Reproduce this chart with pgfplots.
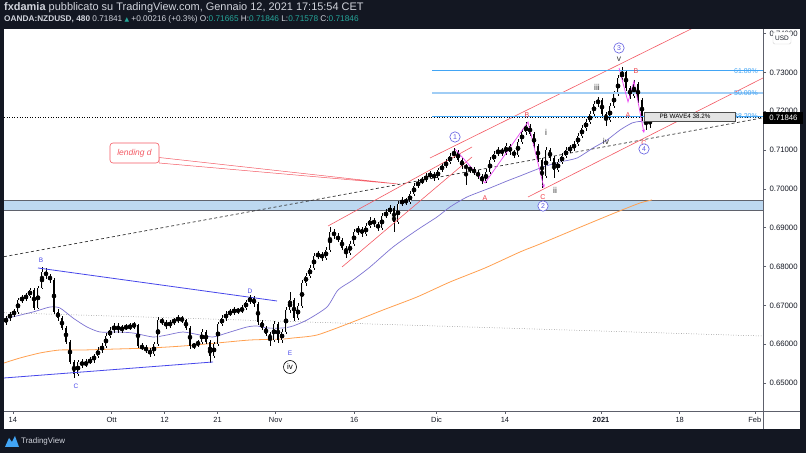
\documentclass[border=0pt]{standalone}
\usepackage{fontspec}
\setmainfont{Liberation Sans}
\newfontfamily\dejavu{DejaVu Sans}
\usepackage{pgfplots}
\pgfplotsset{compat=1.18}
\usepackage{pgfplotstable}
\usetikzlibrary{arrows.meta}

\definecolor{tvbg}{HTML}{131722}
\definecolor{tvtext}{HTML}{D1D4DC}
\definecolor{tvteal}{HTML}{26A69A}
\definecolor{axisgray}{HTML}{5D606B}
\definecolor{lbl}{HTML}{131722}
\definecolor{zonefill}{RGB}{189,216,240}
\definecolor{zoneedge}{RGB}{95,98,108}
\definecolor{fibblue}{RGB}{66,165,245}
\definecolor{fiblight}{RGB}{160,205,245}
\definecolor{chred}{RGB}{244,90,100}
\definecolor{tribl}{RGB}{70,70,235}
\definecolor{maslate}{RGB}{125,115,210}
\definecolor{maorange}{RGB}{255,160,80}
\definecolor{wavepink}{RGB}{235,70,245}
\definecolor{wavered}{RGB}{240,60,70}
\definecolor{wavepurple}{RGB}{95,90,225}
\definecolor{upfill}{RGB}{238,238,238}

% 480-minute candles, OANDA:NZDUSD (x = horizontal position on the chart)
\pgfplotstableread{
x o h l c
6 0.6657 0.6672 0.6650 0.6667
10 0.6667 0.6684 0.6660 0.6678
14 0.6678 0.6690 0.6671 0.6683
18 0.6683 0.6720 0.6679 0.6714
22 0.6714 0.6726 0.6706 0.6719
26 0.6719 0.6731 0.6712 0.6724
30 0.6724 0.6746 0.6718 0.6740
34 0.6740 0.6744 0.6688 0.6693
38 0.6693 0.6750 0.6690 0.6745
42 0.6745 0.6800 0.6741 0.6786
46 0.6786 0.6795 0.6768 0.6776
50 0.6776 0.6782 0.6758 0.6765
54 0.6765 0.6770 0.6678 0.6683
58 0.6683 0.6690 0.6660 0.6667
62 0.6667 0.6672 0.6636 0.6642
66 0.6642 0.6648 0.6600 0.6606
70 0.6606 0.6611 0.6548 0.6554
74 0.6554 0.6560 0.6513 0.6523
78 0.6523 0.6560 0.6517 0.6554
82 0.6554 0.6562 0.6538 0.6546
86 0.6546 0.6561 0.6540 0.6554
90 0.6554 0.6566 0.6548 0.6559
94 0.6559 0.6576 0.6552 0.6570
98 0.6570 0.6592 0.6565 0.6585
102 0.6585 0.6602 0.6578 0.6595
106 0.6595 0.6628 0.6590 0.6621
110 0.6621 0.6645 0.6615 0.6636
114 0.6636 0.6655 0.6630 0.6647
118 0.6647 0.6654 0.6630 0.6636
122 0.6636 0.6650 0.6628 0.6644
126 0.6644 0.6652 0.6636 0.6642
130 0.6642 0.6654 0.6637 0.6647
134 0.6647 0.6658 0.6640 0.6649
138 0.6649 0.6653 0.6590 0.6595
142 0.6595 0.6602 0.6584 0.6590
146 0.6590 0.6597 0.6578 0.6585
150 0.6585 0.6590 0.6568 0.6575
154 0.6575 0.6606 0.6570 0.6600
158 0.6600 0.6670 0.6596 0.6662
162 0.6662 0.6668 0.6650 0.6657
166 0.6657 0.6662 0.6640 0.6647
170 0.6647 0.6663 0.6641 0.6657
174 0.6657 0.6668 0.6650 0.6662
178 0.6662 0.6675 0.6655 0.6667
182 0.6667 0.6672 0.6654 0.6662
186 0.6662 0.6666 0.6636 0.6642
190 0.6642 0.6646 0.6588 0.6595
194 0.6595 0.6604 0.6588 0.6598
198 0.6598 0.6612 0.6592 0.6606
202 0.6606 0.6638 0.6600 0.6631
206 0.6631 0.6636 0.6600 0.6606
210 0.6606 0.6610 0.6552 0.6570
214 0.6570 0.6606 0.6565 0.6600
218 0.6600 0.6658 0.6596 0.6652
222 0.6652 0.6674 0.6646 0.6667
226 0.6667 0.6685 0.6660 0.6678
230 0.6678 0.6690 0.6672 0.6683
234 0.6683 0.6695 0.6676 0.6688
238 0.6688 0.6694 0.6678 0.6685
242 0.6685 0.6700 0.6680 0.6693
246 0.6693 0.6715 0.6688 0.6709
250 0.6709 0.6727 0.6704 0.6719
254 0.6719 0.6724 0.6697 0.6703
258 0.6703 0.6708 0.6650 0.6657
262 0.6657 0.6663 0.6636 0.6642
266 0.6642 0.6648 0.6620 0.6626
270 0.6626 0.6632 0.6595 0.6611
274 0.6611 0.6660 0.6605 0.6652
278 0.6652 0.6657 0.6604 0.6611
282 0.6611 0.6638 0.6604 0.6631
286 0.6631 0.6695 0.6626 0.6688
290 0.6688 0.6734 0.6680 0.6714
294 0.6714 0.6720 0.6660 0.6667
298 0.6667 0.6705 0.6662 0.6698
302 0.6698 0.6765 0.6692 0.6758
306 0.6758 0.6784 0.6750 0.6776
310 0.6776 0.6804 0.6770 0.6796
314 0.6796 0.6835 0.6790 0.6827
318 0.6827 0.6840 0.6820 0.6832
322 0.6832 0.6838 0.6815 0.6822
326 0.6822 0.6850 0.6816 0.6843
330 0.6843 0.6902 0.6838 0.6889
334 0.6889 0.6896 0.6872 0.6879
338 0.6879 0.6885 0.6862 0.6868
342 0.6868 0.6874 0.6842 0.6848
346 0.6848 0.6852 0.6822 0.6835
350 0.6835 0.6865 0.6830 0.6858
354 0.6858 0.6896 0.6852 0.6889
358 0.6889 0.6905 0.6882 0.6897
362 0.6897 0.6903 0.6877 0.6884
366 0.6884 0.6911 0.6878 0.6904
370 0.6904 0.6928 0.6898 0.6920
374 0.6920 0.6926 0.6902 0.6909
378 0.6909 0.6915 0.6892 0.6899
382 0.6899 0.6937 0.6894 0.6930
386 0.6930 0.6947 0.6924 0.6940
390 0.6940 0.6958 0.6934 0.6951
394 0.6951 0.6956 0.6889 0.6915
398 0.6915 0.6968 0.6910 0.6961
402 0.6961 0.6978 0.6955 0.6971
406 0.6971 0.6977 0.6959 0.6966
410 0.6966 0.6994 0.6960 0.6987
414 0.6987 0.7014 0.6982 0.7007
418 0.7007 0.7026 0.7001 0.7018
422 0.7018 0.7030 0.7012 0.7023
426 0.7023 0.7040 0.7017 0.7033
430 0.7033 0.7045 0.7027 0.7038
434 0.7038 0.7044 0.7021 0.7028
438 0.7028 0.7055 0.7022 0.7049
442 0.7049 0.7066 0.7043 0.7059
446 0.7059 0.7076 0.7053 0.7069
450 0.7069 0.7092 0.7063 0.7085
454 0.7085 0.7105 0.7080 0.7095
458 0.7095 0.7100 0.7068 0.7074
462 0.7074 0.7080 0.7052 0.7059
466 0.7059 0.7065 0.7010 0.7054
470 0.7054 0.7060 0.7042 0.7049
474 0.7049 0.7056 0.7036 0.7043
478 0.7043 0.7048 0.7026 0.7033
482 0.7033 0.7038 0.7012 0.7020
486 0.7020 0.7050 0.7015 0.7043
490 0.7043 0.7081 0.7038 0.7074
494 0.7074 0.7097 0.7068 0.7090
498 0.7090 0.7108 0.7084 0.7100
502 0.7100 0.7106 0.7085 0.7092
506 0.7092 0.7118 0.7087 0.7110
510 0.7110 0.7115 0.7088 0.7095
514 0.7095 0.7101 0.7080 0.7087
518 0.7087 0.7128 0.7082 0.7121
522 0.7121 0.7153 0.7115 0.7146
526 0.7146 0.7172 0.7140 0.7162
530 0.7162 0.7168 0.7135 0.7141
534 0.7141 0.7146 0.7104 0.7110
538 0.7110 0.7116 0.7068 0.7074
542 0.7074 0.7080 0.7002 0.7033
546 0.7033 0.7107 0.7028 0.7100
550 0.7100 0.7106 0.7072 0.7079
554 0.7079 0.7084 0.7028 0.7049
558 0.7049 0.7076 0.7043 0.7069
562 0.7069 0.7092 0.7063 0.7085
566 0.7085 0.7107 0.7079 0.7100
570 0.7100 0.7113 0.7093 0.7105
574 0.7105 0.7122 0.7098 0.7115
578 0.7115 0.7143 0.7110 0.7136
582 0.7136 0.7164 0.7130 0.7157
586 0.7157 0.7180 0.7150 0.7172
590 0.7172 0.7200 0.7166 0.7193
594 0.7193 0.7226 0.7187 0.7219
598 0.7219 0.7237 0.7212 0.7229
602 0.7229 0.7234 0.7186 0.7193
606 0.7193 0.7199 0.7162 0.7177
610 0.7177 0.7220 0.7172 0.7213
614 0.7213 0.7251 0.7207 0.7244
618 0.7244 0.7293 0.7238 0.7285
622 0.7285 0.7314 0.7280 0.7301
626 0.7301 0.7306 0.7253 0.7260
630 0.7260 0.7265 0.7232 0.7239
634 0.7239 0.7281 0.7234 0.7270
638 0.7270 0.7275 0.7222 0.7229
642 0.7229 0.7235 0.7176 0.7182
646 0.7182 0.7188 0.7151 0.7167
650 0.71665 0.71846 0.71578 0.71846
}\candles

\begin{document}
\begin{tikzpicture}[x=1bp,y=1bp]
% frame
\fill[tvbg] (0,0) rectangle (806,453);
\fill[white] (4,24) rectangle (800,424);

\begin{axis}[
  at={(4bp,42bp)}, anchor=south west,
  scale only axis, width=759bp, height=381bp,
  xmin=4, xmax=763, ymin=0.642789, ymax=0.740908,
  axis x line*=bottom, axis y line*=right,
  axis line style={draw=axisgray, line width=0.7pt},
  xtick={12.9,111.6,164.5,217.5,275.6,354.2,436.5,504.9,601,679.7,754.8},
  xticklabels={14,Ott,12,21,Nov,16,Dic,14,\textbf{2021},18,Feb},
  ytick={0.65,0.66,0.67,0.68,0.69,0.70,0.71,0.72,0.73,0.74},
  yticklabels={0.65000,0.66000,0.67000,0.68000,0.69000,0.70000,0.71000,0.72000,0.73000,0.74000},
  tick align=outside, major tick length=3bp,
  tick style={draw=axisgray, line width=0.5pt},
  x tick label style={font=\fontsize{7.5}{8}\selectfont, text=lbl},
  y tick label style={font=\fontsize{7.8}{8}\selectfont, text=lbl},
]
% support zone
\addplot[draw=none, fill=zonefill] coordinates {(4,0.69446) (763,0.69446) (763,0.69696) (4,0.69696)} -- cycle;
\addplot[zoneedge, line width=0.7pt] coordinates {(4,0.69696) (763,0.69696)};
\addplot[zoneedge, line width=0.7pt] coordinates {(4,0.69446) (763,0.69446)};

% moving averages
\addplot[maorange, line width=0.8pt, smooth, tension=0.4] coordinates {
(4,0.65515) (20,0.65644) (40,0.65773) (60,0.65850) (83,0.65850) (117,0.65876)
(150,0.65901) (183,0.65953) (217,0.66030) (250,0.66107) (283,0.66133) (293,0.66159)
(317,0.66236) (350,0.66545) (383,0.66880) (417,0.67215) (450,0.67601) (485,0.67962)
(520,0.68374) (540,0.68580) (583,0.69043) (617,0.69404) (640,0.69636) (652,0.69713)};
\addplot[maslate, line width=0.7pt, smooth, tension=0.4] coordinates {
(4,0.66648) (33,0.66829) (50,0.66957) (60,0.66931) (73,0.66674) (87,0.66442)
(100,0.66313) (117,0.66313) (133,0.66288) (153,0.66185) (167,0.66236) (183,0.66313)
(200,0.66236) (213,0.66185) (227,0.66288) (247,0.66442) (257,0.66468) (267,0.66416)
(283,0.66416) (293,0.66468) (307,0.66622) (327,0.66957) (338,0.67395) (353,0.67653)
(370,0.67987) (393,0.68502) (417,0.68940) (437,0.69275) (450,0.69533) (467,0.69790)
(490,0.70022) (507,0.70202) (520,0.70331) (543,0.70563) (560,0.70691) (577,0.70794)
(593,0.71052) (607,0.71258) (620,0.71515) (632,0.71696) (640,0.71734) (647,0.71696)};

% long reference lines
\addplot[gray!70!black, dotted, line width=0.5pt] coordinates {(4,0.66810) (763,0.66210)};
\addplot[gray!40!black, dashed, line width=0.7pt, dash pattern=on 3pt off 2.5pt] coordinates {(4,0.68253) (763,0.71830)};

% candles: wicks, then bodies
\addplot[only marks, mark=none, error bars/.cd, y dir=both, y explicit, error mark=none,
  error bar style={draw=black, line width=0.5pt}]
  table[x=x, y expr={(\thisrow{h}+\thisrow{l})/2}, y error expr={(\thisrow{h}-\thisrow{l})/2}] {\candles};
\addplot[only marks, mark=none, restrict expr to domain={\thisrow{c}-\thisrow{o}}{-1:0},
  error bars/.cd, y dir=both, y explicit, error mark=none,
  error bar style={draw=black, line width=2.4bp}]
  table[x=x, y expr={(\thisrow{o}+\thisrow{c})/2}, y error expr={abs(\thisrow{c}-\thisrow{o})/2}] {\candles};
\addplot[only marks, mark=none, restrict expr to domain={\thisrow{c}-\thisrow{o}}{0:1},
  error bars/.cd, y dir=both, y explicit, error mark=none,
  error bar style={draw=black, line width=2.4bp}]
  table[x=x, y expr={(\thisrow{o}+\thisrow{c})/2}, y error expr={abs(\thisrow{c}-\thisrow{o})/2}] {\candles};
\addplot[only marks, mark=none, restrict expr to domain={\thisrow{c}-\thisrow{o}}{0:1},
  error bars/.cd, y dir=both, y explicit, error mark=none,
  error bar style={draw=upfill, line width=1.0bp}]
  table[x=x, y expr={(\thisrow{o}+\thisrow{c})/2}, y error expr={abs(\thisrow{c}-\thisrow{o})/2}] {\candles};

% triangle
\addplot[tribl, line width=0.8pt] coordinates {(38,0.67962) (277,0.67112)};
\addplot[tribl, line width=0.8pt] coordinates {(4,0.65129) (213,0.65541)};

% channels
\addplot[chred, line width=0.6pt] coordinates {(328,0.69043) (472,0.71078)};
\addplot[chred, line width=0.6pt] coordinates {(342,0.67987) (472,0.70820)};
\addplot[chred, line width=0.6pt] coordinates {(430,0.70794) (693,0.74142)};
\addplot[chred, line width=0.6pt] coordinates {(528,0.69790) (763,0.72855)};

% fibonacci levels
\addplot[fibblue, line width=0.6pt] coordinates {(432,0.73043) (763,0.73043)};
\addplot[fiblight, line width=1.8pt] coordinates {(432,0.72476) (763,0.72476)};
\addplot[fibblue, line width=0.6pt] coordinates {(432,0.71876) (763,0.71876)};

% last price
\addplot[black, dotted, line width=0.6pt] coordinates {(4,0.71846) (763,0.71846)};

% wave paths
\addplot[wavepink, line width=0.7pt, -{Stealth[length=3.5bp,width=3bp]}] coordinates {(455,0.71026) (485,0.70151) (528,0.71722) (544,0.70022)};
\addplot[wavepink, line width=0.7pt, -{Stealth[length=3.5bp,width=3bp]}] coordinates {(619,0.73112) (628,0.72237) (634,0.72777) (644,0.71438)};
\end{axis}

% extended scale lines
\draw[axisgray, line width=0.7pt] (4,42) -- (800,42);
\draw[axisgray, line width=0.7pt] (763,24) -- (763,424);

% callout
\filldraw[chred, fill=white, line width=0.5pt] (159,453-157.5) -- (398,453-184) -- (159,453-163) -- cycle;
\filldraw[chred, fill=white, line width=0.6pt, rounded corners=3bp] (110,453-143) rectangle (159,453-163);
\node[text=chred, font=\itshape\fontsize{8.5}{9}\selectfont] at (134.5,453-153) {lending d};

% triangle labels
\begin{scope}[every node/.style={text=tribl, font=\fontsize{6.5}{7}\selectfont, inner sep=0}]
\node at (41,453-260) {B};
\node at (76,453-386) {C};
\node at (250,453-291) {D};
\node at (290,453-353) {E};
\end{scope}
\draw[black, line width=0.6pt, fill=white] (290,453-367) circle (6.5);
\node[font=\fontsize{8}{8}\selectfont, inner sep=0] at (290,453-367) {iv};

% wave labels
\begin{scope}[every node/.style={text=wavered, font=\fontsize{7}{7}\selectfont, inner sep=0}]
\node at (485,453-198) {A};
\node at (527,453-115) {B};
\node at (543,453-197) {C};
\node at (628,453-115) {A};
\node at (636,453-71) {B};
\node at (644,453-143) {C};
\end{scope}
\begin{scope}[every node/.style={text=black!80, font=\fontsize{8.5}{9}\selectfont, inner sep=0}]
\node at (546,453-132) {i};
\node at (555,453-190) {ii};
\node at (597,453-87) {iii};
\node at (606,453-141) {iv};
\node at (619,453-59) {v};
\end{scope}
\foreach \cx/\cy/\n in {455/137/1, 543/206/2, 619/48/3, 644/149/4} {
  \draw[wavepurple, line width=0.6pt, fill=white] (\cx,453-\cy) circle (5.2);
  \node[text=wavepurple, font=\fontsize{7}{7}\selectfont, inner sep=0] at (\cx,453-\cy) {\n};
}

% fib labels
\begin{scope}[every node/.style={text=fibblue, font=\fontsize{7}{7}\selectfont, inner sep=0, anchor=east}]
\node at (758,453-70.7) {61.80\%};
\node at (758,453-92.7) {50.00\%};
\node at (758,453-116) {38.20\%};
\end{scope}

% PB box
\filldraw[draw=gray!60!black, fill=gray!22, line width=0.5pt] (644,453-112) rectangle (735,453-121);
\node[font=\fontsize{6.3}{7}\selectfont, inner sep=0] at (685,453-116.5) {PB WAVE4 38.2\%};

% price tag and currency
\fill[black] (763,453-124) rectangle (803,453-112);
\node[text=white, font=\fontsize{7.8}{8}\selectfont, inner sep=0] at (783.5,453-118) {0.71846};
\filldraw[draw=gray!35, fill=white, rounded corners=1.5bp] (773,453-44) rectangle (791,453-32);
\node[text=lbl, font=\fontsize{6.5}{7}\selectfont, inner sep=0] at (782,453-38) {USD};

% header
\node[anchor=west, inner sep=0, text=tvtext, font=\fontsize{11}{12}\selectfont] at (4,453-7.5)
  {\textbf{fxdamia} pubblicato su TradingView.com, Gennaio 12, 2021 17:15:54 CET};
\node[anchor=west, inner sep=0, text=tvtext, font=\fontsize{8.3}{10}\selectfont] at (4,453-19)
  {\textbf{OANDA:NZDUSD, 480} 0.71841 {\dejavu\fontsize{6}{7}\selectfont\color{tvteal}▲} +0.00216 (+0.3\%) O:{\color{tvteal}0.71665} H:{\color{tvteal}0.71846} L:{\color{tvteal}0.71578} C:{\color{tvteal}0.71846}};

% footer logo
\fill[fibblue] (5,453-447) -- (9,453-438) -- (12,453-442) -- (15,453-436) -- (19,453-447) -- cycle;
\node[anchor=west, inner sep=0, text=tvtext, font=\fontsize{8}{9}\selectfont] at (21,453-441) {TradingView};

\pgfresetboundingbox
\path[use as bounding box] (0,0) rectangle (806,453);
\end{tikzpicture}
\end{document}
